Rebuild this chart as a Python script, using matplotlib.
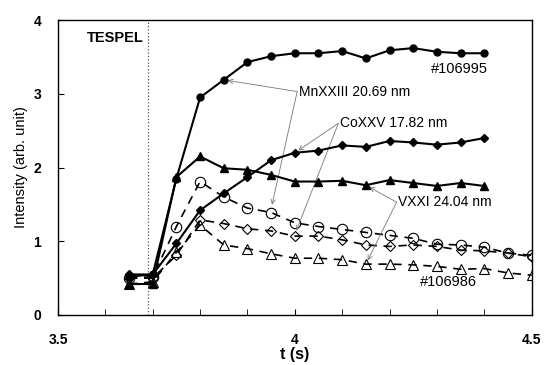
import numpy as np
from matplotlib import pyplot as plt

plt.rcParams['font.family'] = ['Liberation Sans', 'DejaVu Sans']

# tempos (s)
t_a = np.round(np.arange(3.65, 4.401, 0.05), 2)   # #106995 (3.65..4.40)
t_b = np.round(np.arange(3.65, 4.501, 0.05), 2)   # #106986 (3.65..4.50)

# #106995 (simbolos cheios)
mn_a = [0.52, 0.55, 1.85, 2.95, 3.19, 3.43, 3.51, 3.55, 3.55, 3.58, 3.48, 3.59, 3.62, 3.57, 3.55, 3.55]
co_a = [0.55, 0.55, 0.97, 1.42, 1.65, 1.87, 2.10, 2.20, 2.23, 2.30, 2.28, 2.36, 2.34, 2.31, 2.34, 2.40]
v_a  = [0.42, 0.42, 1.87, 2.15, 1.99, 1.97, 1.90, 1.81, 1.81, 1.82, 1.76, 1.83, 1.79, 1.75, 1.79, 1.75]
# #106986 (simbolos abertos)
mn_b = [0.50, 0.52, 1.20, 1.81, 1.60, 1.45, 1.39, 1.25, 1.20, 1.16, 1.12, 1.08, 1.04, 0.96, 0.95, 0.92, 0.84, 0.81]
co_b = [0.50, 0.50, 0.81, 1.29, 1.24, 1.17, 1.14, 1.07, 1.07, 1.02, 0.95, 0.93, 0.95, 0.93, 0.88, 0.87, 0.84, 0.79]
v_b  = [0.42, 0.45, 0.85, 1.22, 0.95, 0.90, 0.83, 0.77, 0.77, 0.75, 0.69, 0.69, 0.68, 0.66, 0.62, 0.63, 0.57, 0.54]

t_tespel = 3.69

fig = plt.figure(figsize=(5.45, 3.65), dpi=100)
ax = fig.add_axes([0.1064, 0.137, 0.869, 0.808])

# cheios, linha continua
ax.plot(t_a, mn_a, '-o', color='k', lw=1.5, ms=5, zorder=4)
ax.plot(t_a, co_a, '-D', color='k', lw=1.5, ms=4.3, zorder=4)
ax.plot(t_a, v_a, '-^', color='k', lw=1.5, ms=5.5, zorder=4)
# abertos, tracejado
ax.plot(t_b, mn_b, '--o', color='k', lw=1.2, ms=7.5, mfc='none', mew=0.8, dashes=(5, 4), zorder=3)
ax.plot(t_b, co_b, '--D', color='k', lw=1.2, ms=5.5, mfc='none', mew=0.8, dashes=(5, 4), zorder=3)
ax.plot(t_b, v_b, '--^', color='k', lw=1.2, ms=7, mfc='none', mew=0.8, dashes=(5, 4), zorder=3)

ax.axvline(t_tespel, color='#555555', ls=':', lw=0.9, zorder=1)
ax.text(3.682, 3.76, 'TESPEL', ha='right', va='center', fontsize=10.5, fontweight='bold')

ap = dict(arrowstyle='->', color='#777777', lw=0.6, shrinkA=0, shrinkB=3, mutation_scale=8)
# MnXXIII
ax.annotate('', xy=(t_a[4], mn_a[4]), xytext=(4.005, 3.03), arrowprops=ap)
ax.annotate('', xy=(t_b[6], mn_b[6] + 0.05), xytext=(4.005, 3.03), arrowprops=ap)
ax.text(4.008, 3.03, 'MnXXIII 20.69 nm', ha='left', va='center', fontsize=10)
# CoXXV
ax.annotate('', xy=(t_a[7], co_a[7]), xytext=(4.092, 2.6), arrowprops=ap)
ax.annotate('', xy=(t_b[7], co_b[7] + 0.02), xytext=(4.092, 2.6), arrowprops=ap)
ax.text(4.095, 2.6, 'CoXXV 17.82 nm', ha='left', va='center', fontsize=10)
# VXXI
ax.annotate('', xy=(t_a[10], v_a[10]), xytext=(4.215, 1.53), arrowprops=ap)
ax.annotate('', xy=(t_b[10], v_b[10]), xytext=(4.215, 1.53), arrowprops=ap)
ax.text(4.218, 1.53, 'VXXI 24.04 nm', ha='left', va='center', fontsize=10)

ax.text(4.347, 3.34, '#106995', ha='center', va='center', fontsize=10.5)
ax.text(4.325, 0.45, '#106986', ha='center', va='center', fontsize=10.5)

ax.set_xlim(3.5, 4.5)
ax.set_ylim(0, 4)
ax.set_xticks([3.5, 4, 4.5])
ax.set_xticklabels(['3.5', '4', '4.5'], fontweight='bold')
ax.set_xticks(np.arange(3.6, 4.45, 0.1), minor=True)
ax.set_yticks([0, 1, 2, 3, 4])
ax.set_yticklabels(['0', '1', '2', '3', '4'], fontweight='bold')
ax.tick_params(axis='x', which='both', direction='in', length=4, pad=13, labelsize=10)
ax.tick_params(axis='y', direction='in', length=4, pad=12, labelsize=10)
ax.tick_params(top=False, right=False)
ax.set_xlabel('t (s)', fontsize=11.5, fontweight='bold', labelpad=0)
ax.set_ylabel('Intensity (arb. unit)', fontsize=10.5, labelpad=4)
for s in ax.spines.values():
    s.set_linewidth(1)

plt.savefig('out.png', dpi=100)
